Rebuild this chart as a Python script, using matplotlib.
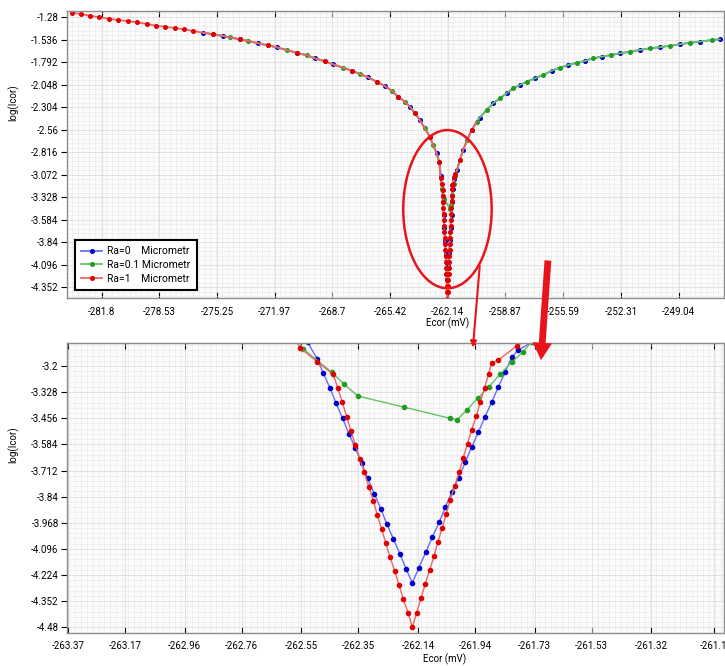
import numpy as np
import matplotlib
matplotlib.use("Agg")
import matplotlib.pyplot as plt
from matplotlib.patches import Ellipse, FancyArrowPatch
from matplotlib.ticker import MultipleLocator

plt.rcParams['font.family'] = ['Roboto', 'DejaVu Sans']

# shared outer branches of the polarisation curve
e_wing_left = [-283.49, -282.98, -282.45, -281.92, -281.37, -280.85, -280.31, -279.77, -279.23,
               -278.71, -278.18, -277.65, -277.12, -276.59, -276.02, -275.46, -274.89, -274.51,
               -273.94, -273.47, -272.90, -272.33, -271.86, -271.29, -270.72, -270.15, -269.68,
               -269.12, -268.65, -268.08, -267.60, -267.13, -266.66, -266.18, -265.71, -265.33,
               -264.96, -264.58, -264.29, -264.01, -263.73, -263.44, -263.16, -262.97, -262.78,
               -262.63]
logi_wing_left = [-1.228, -1.242, -1.262, -1.280, -1.296, -1.311, -1.322, -1.337, -1.356,
                  -1.376, -1.387, -1.402, -1.417, -1.436, -1.455, -1.473, -1.493, -1.508,
                  -1.530, -1.550, -1.576, -1.599, -1.621, -1.652, -1.683, -1.712, -1.747,
                  -1.781, -1.815, -1.853, -1.888, -1.925, -1.963, -2.013, -2.062, -2.115,
                  -2.183, -2.240, -2.297, -2.372, -2.449, -2.543, -2.639, -2.733, -2.827,
                  -2.923]
e_wing_right = [-261.61, -261.46, -261.27, -261.04, -260.79, -260.51, -260.32, -259.94, -259.57,
                -259.19, -258.80, -258.43, -258.05, -257.67, -257.20, -256.73, -256.25, -255.78,
                -255.31, -254.83, -254.36, -253.89, -253.41, -252.85, -252.38, -251.81, -251.24,
                -250.67, -250.11, -249.54, -248.97, -248.40, -247.84, -247.17, -246.70]
logi_wing_right = [-3.017, -2.904, -2.790, -2.676, -2.565, -2.470, -2.420, -2.335, -2.259,
                   -2.202, -2.145, -2.088, -2.050, -2.013, -1.974, -1.937, -1.888, -1.853,
                   -1.823, -1.797, -1.777, -1.746, -1.728, -1.709, -1.690, -1.671, -1.652,
                   -1.633, -1.621, -1.603, -1.587, -1.569, -1.558, -1.538, -1.530]

# points around the corrosion potential
e_dip_ra0 = [-262.528, -262.494, -262.473, -262.449, -262.428, -262.405, -262.383, -262.360,
             -262.338, -262.317, -262.294, -262.271, -262.250, -262.227, -262.204, -262.182,
             -262.160, -262.137, -262.113, -262.090, -262.066, -262.044, -262.022, -261.997,
             -261.974, -261.952, -261.928, -261.905, -261.881, -261.858, -261.834, -261.811,
             -261.788, -261.740]
logi_dip_ra0 = [-3.084, -3.166, -3.236, -3.309, -3.383, -3.456, -3.532, -3.603,
                -3.677, -3.750, -3.826, -3.899, -3.973, -4.046, -4.119, -4.194,
                -4.262, -4.188, -4.113, -4.039, -3.966, -3.892, -3.819, -3.747,
                -3.672, -3.598, -3.525, -3.450, -3.378, -3.303, -3.231, -3.157,
                -3.122, -3.084]
e_dip_ra01 = [-262.543, -262.443, -262.399, -262.352, -262.188, -262.028, -262.004, -261.969,
              -261.930, -261.890, -261.852, -261.811, -261.770, -261.741]
logi_dip_ra01 = [-3.117, -3.231, -3.290, -3.347, -3.402, -3.456, -3.465, -3.416,
                 -3.358, -3.301, -3.241, -3.182, -3.130, -3.081]
e_dip_ra1 = [-262.555, -262.494, -262.438, -262.422, -262.406, -262.391, -262.376, -262.360,
             -262.344, -262.329, -262.313, -262.297, -262.283, -262.268, -262.253, -262.239,
             -262.222, -262.207, -262.192, -262.175, -262.160, -262.145, -262.130, -262.115,
             -262.099, -262.084, -262.070, -262.055, -262.041, -262.027, -262.011, -261.995,
             -261.981, -261.966, -261.952, -261.935, -261.921, -261.906, -261.892, -261.881,
             -261.858, -261.793, -261.747]
logi_dip_ra1 = [-3.110, -3.180, -3.241, -3.309, -3.378, -3.448, -3.518, -3.587,
                -3.656, -3.721, -3.791, -3.860, -3.930, -3.998, -4.069, -4.134,
                -4.204, -4.273, -4.341, -4.409, -4.480, -4.409, -4.338, -4.269,
                -4.199, -4.131, -4.061, -3.992, -3.925, -3.856, -3.788, -3.718,
                -3.649, -3.581, -3.514, -3.445, -3.375, -3.309, -3.238, -3.187,
                -3.171, -3.102, -3.063]

labels = ["Ra=0    Micrometr", "Ra=0.1 Micrometr", "Ra=1    Micrometr"]

top_xticks = [-281.8, -278.53, -275.25, -271.97, -268.7, -265.42, -262.14, -258.87, -255.59, -252.31, -249.04]
top_yticks = [-1.28, -1.536, -1.792, -2.048, -2.304, -2.56, -2.816, -3.072, -3.328, -3.584, -3.84, -4.096, -4.352]
bot_xticks = [-263.37, -263.17, -262.96, -262.76, -262.55, -262.35, -262.14, -261.94, -261.73, -261.53, -261.32, -261.1]
bot_yticks = [-3.2, -3.328, -3.456, -3.584, -3.712, -3.84, -3.968, -4.096, -4.224, -4.352, -4.48]

# assemble each series: Ra=1 covers the far cathodic side, Ra=0 / Ra=0.1 the anodic side
wl_e, wl_l = np.array(e_wing_left), np.array(logi_wing_left)
wr_e, wr_l = np.array(e_wing_right), np.array(logi_wing_right)
late = wl_e >= -276.1
short = wr_e <= -260.5

series = [
    (np.concatenate([wl_e[late], e_dip_ra0, wr_e]), np.concatenate([wl_l[late], logi_dip_ra0, wr_l]),
     '#6a6aff', '#0000c8'),
    (np.concatenate([wl_e[late], e_dip_ra01, wr_e]), np.concatenate([wl_l[late], logi_dip_ra01, wr_l]),
     '#66c266', '#1f9e1f'),
    (np.concatenate([wl_e, e_dip_ra1, wr_e[short]]), np.concatenate([wl_l, logi_dip_ra1, wr_l[short]]),
     '#f06464', '#e00000'),
]

# which markers show in the overview, so overlapping series look mixed as in the original
red_E = series[2][0]
idx = np.arange(len(red_E))
red_mask = (red_E < -276.1) | ((red_E > -262.6) & (red_E < -261.7)) | (idx % 3 == 0)
every = [(0, 2), (1, 2), red_mask]

fig = plt.figure(figsize=(7.25, 6.66), dpi=100)
ax1 = fig.add_axes([0.0924, 0.5521, 0.906, 0.4314])
ax2 = fig.add_axes([0.0924, 0.0495, 0.906, 0.4359])

for (E, L, lc, mc), lab, mk in zip(series, labels, every):
    ax1.plot(E, L, '-', color=lc, lw=1.3, marker='o', ms=2.6, mfc=mc, mec=mc,
             markevery=mk, label=lab)
    ax2.plot(E, L, '-', color=lc, lw=1.0, marker='o', ms=3.0, mfc=mc, mec=mc)

ax1.set_xlim(-283.76, -246.47)
ax1.set_ylim(-4.477, -1.208)
ax2.set_xlim(-263.374, -261.065)
ax2.set_ylim(-4.508, -3.086)

ax1.set_xticks(top_xticks)
ax1.set_xticklabels([str(t) for t in top_xticks])
ax1.set_yticks(top_yticks)
ax1.set_yticklabels([str(t) for t in top_yticks])
ax2.set_xticks(bot_xticks)
ax2.set_xticklabels([str(t) for t in bot_xticks])
ax2.set_yticks(bot_yticks)
ax2.set_yticklabels([str(t) for t in bot_yticks])

ax1.xaxis.set_minor_locator(MultipleLocator(3.2773 / 10))
ax1.yaxis.set_minor_locator(MultipleLocator(0.256 / 5))
ax2.xaxis.set_minor_locator(MultipleLocator(0.2064 / 10))
ax2.yaxis.set_minor_locator(MultipleLocator(0.128 / 5))

for ax in (ax1, ax2):
    ax.set_facecolor('#fbfbfb')
    ax.grid(True, which='major', color='#d8d8d8', lw=0.5)
    ax.grid(True, which='minor', color='#e8e8e8', lw=0.4)
    ax.set_axisbelow(True)
    ax.tick_params(axis='x', which='major', direction='in', length=4, top=True, labelsize=7, pad=6)
    ax.tick_params(axis='y', which='major', direction='out', length=4, labelsize=7, pad=2)
    ax.tick_params(which='minor', length=0)
    for s in ax.spines.values():
        s.set_color('#8c8c8c')
        s.set_linewidth(1.0)
    ax.set_ylabel('log(Icor)', fontsize=7)
    ax.set_xlabel('Ecor (mV)', fontsize=7)

ax1.yaxis.set_label_coords(-0.072, 0.68)
ax2.yaxis.set_label_coords(-0.072, 0.65)
ax1.xaxis.set_label_coords(0.58, -0.066)
ax2.xaxis.set_label_coords(0.575, -0.071)

leg = ax1.legend(loc='lower left', bbox_to_anchor=(0.012, 0.029), borderaxespad=0,
                 fontsize=7.5, handlelength=2.0, fancybox=False, framealpha=1,
                 borderpad=0.6, labelspacing=0.35, handletextpad=0.5)
leg.get_frame().set_edgecolor('black')
leg.get_frame().set_linewidth(1.5)

# red markings: ellipse round the dip and the arrows to the zoomed panel
ax1.add_patch(Ellipse((-262.16, -3.463), width=5.02, height=1.80, fill=False,
                      edgecolor='#e8141c', lw=1.8, zorder=5))
fig.add_artist(FancyArrowPatch((0.662, 0.605), (0.652, 0.474), transform=fig.transFigure,
                               arrowstyle='-|>', mutation_scale=9, lw=1.5, color='#e8141c'))
fig.add_artist(FancyArrowPatch((0.756, 0.613), (0.746, 0.455), transform=fig.transFigure,
                               arrowstyle='simple,head_length=0.9,head_width=1.0,tail_width=0.35',
                               mutation_scale=14, color='#e8141c', lw=0))

plt.savefig('out.png', dpi=100)
